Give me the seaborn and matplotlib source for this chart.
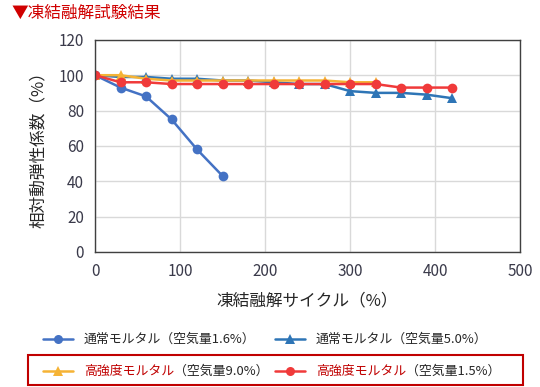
import numpy as np
import pandas as pd
import matplotlib
matplotlib.use("Agg")
import matplotlib.pyplot as plt
from matplotlib.lines import Line2D
from matplotlib.patches import Rectangle
import seaborn as sns

# データ
cycles = [0, 30, 60, 90, 120, 150, 180, 210, 240, 270, 300, 330, 360, 390, 420]
normal_16 = [100, 93, 88, 75, 58, 43]
normal_50 = [100, 99, 99, 98, 98, 97, 97, 96, 95, 95, 91, 90, 90, 89, 87]
high_90 = [100, 100, 98, 97, 97, 97, 97, 97, 97, 97, 96, 96]
high_15 = [100, 96, 96, 95, 95, 95, 95, 95, 95, 95, 95, 95, 93, 93, 93]

names = ["通常モルタル（空気量1.6%）", "通常モルタル（空気量5.0%）",
         "高強度モルタル（空気量9.0%）", "高強度モルタル（空気量1.5%）"]
series = [normal_16, normal_50, high_90, high_15]
colors = ["#4472C4", "#2E75B6", "#F5B335", "#F03A3A"]
markers = ["o", "^", "^", "o"]

rows = []
for name, vals in zip(names, series):
    for c, v in zip(cycles, vals):
        rows.append({"cycle": c, "value": v, "series": name})
df = pd.DataFrame(rows)

sns.set_style("white")
plt.rcParams["font.family"] = ["Noto Sans CJK JP", "DejaVu Sans"]

fig = plt.figure(figsize=(5.4, 3.87), dpi=100)
ax = fig.add_axes([0.176, 0.349, 0.787, 0.548])

sns.lineplot(data=df, x="cycle", y="value", hue="series", style="series",
             hue_order=names, style_order=names,
             palette=dict(zip(names, colors)), markers=dict(zip(names, markers)),
             dashes=False, linewidth=1.8, markersize=7, markeredgewidth=0,
             legend=False, ax=ax)

ax.set_xlim(0, 500)
ax.set_ylim(0, 120)
ax.set_xticks(range(0, 501, 100))
ax.set_yticks(range(0, 121, 20))
ax.grid(True, color="#D9D9D9", linewidth=1)
ax.set_axisbelow(True)
for s in ax.spines.values():
    s.set_color("#404040")
    s.set_linewidth(1)
ax.tick_params(labelsize=11, colors="#3A3A4A", length=0, pad=8)
ax.set_xlabel("凍結融解サイクル（%）", fontsize=12, color="#262626", labelpad=9)
ax.set_ylabel("相対動弾性係数（%）", fontsize=12, color="#262626", labelpad=8)

fig.text(12 / 540, 0.966, "▼凍結融解試験結果", fontsize=12, color="#D00000",
         va="center", ha="left")

# 凡例（手作り）
def entry(x0, y, color, marker, label, red_part=None):
    line = Line2D([x0, x0 + 30 / 540], [y, y], transform=fig.transFigure,
                  color=color, linewidth=1.8)
    fig.add_artist(line)
    mk = Line2D([x0 + 15 / 540], [y], transform=fig.transFigure, color=color,
                marker=marker, markersize=6.5, markeredgewidth=0, linestyle="none")
    fig.add_artist(mk)
    tx = x0 + 41 / 540
    if red_part:
        t1 = fig.text(tx, y, red_part, fontsize=9.3, color="#C00000", va="center")
        ax.annotate(label, xy=(1, 0.5), xycoords=t1, va="center", ha="left",
                    fontsize=9.3, color="#262626", annotation_clip=False)
    else:
        fig.text(tx, y, label, fontsize=9.3, color="#262626", va="center")

y1 = 1 - 339 / 387
y2 = 1 - 371 / 387
entry(43 / 540, y1, colors[0], "o", names[0])
entry(275 / 540, y1, colors[1], "^", names[1])
entry(43 / 540, y2, colors[2], "^", "（空気量9.0%）", red_part="高強度モルタル")
entry(275 / 540, y2, colors[3], "o", "（空気量1.5%）", red_part="高強度モルタル")

fig.add_artist(Rectangle((28 / 540, 1 - 385 / 387), 495 / 540, 30 / 387,
                         transform=fig.transFigure, fill=False,
                         edgecolor="#C00000", linewidth=1.5))

fig.savefig("out.png", dpi=100)
